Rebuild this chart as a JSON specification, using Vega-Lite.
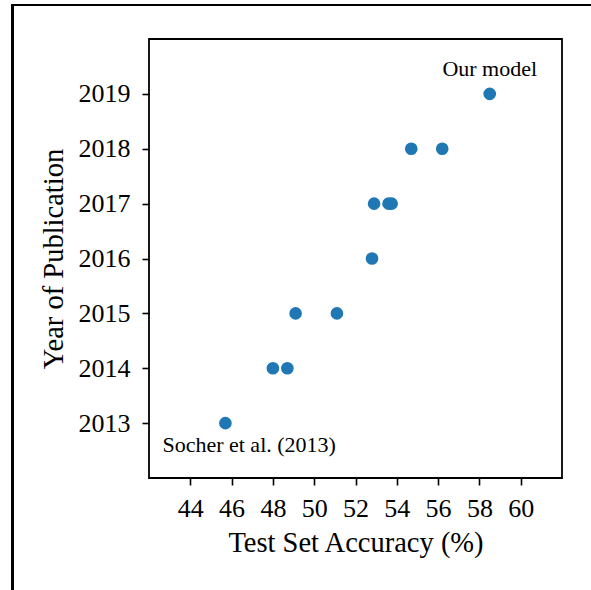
{
  "$schema": "https://vega.github.io/schema/vega-lite/v6.json",
  "autosize": "none",
  "width": 413,
  "height": 439,
  "padding": {"left": 149, "top": 39, "right": 29, "bottom": 112},
  "background": "white",
  "config": {
    "view": {"stroke": "black", "strokeWidth": 1.8},
    "font": "Liberation Serif"
  },
  "data": {
    "values": [
      {"accuracy": 45.7, "year": 2013, "label": "Socher et al. (2013)"},
      {"accuracy": 48.0, "year": 2014, "label": ""},
      {"accuracy": 48.7, "year": 2014, "label": ""},
      {"accuracy": 49.1, "year": 2015, "label": ""},
      {"accuracy": 51.1, "year": 2015, "label": ""},
      {"accuracy": 52.8, "year": 2016, "label": ""},
      {"accuracy": 52.9, "year": 2017, "label": ""},
      {"accuracy": 53.6, "year": 2017, "label": ""},
      {"accuracy": 53.75, "year": 2017, "label": ""},
      {"accuracy": 54.7, "year": 2018, "label": ""},
      {"accuracy": 56.2, "year": 2018, "label": ""},
      {"accuracy": 58.5, "year": 2019, "label": "Our model"}
    ]
  },
  "layer": [
    {
      "mark": {"type": "rect", "fill": null, "stroke": "black", "strokeWidth": 2, "clip": false},
      "encoding": {
        "x": {"datum": 35.4, "type": "quantitative", "scale": {"domain": [42, 62]}},
        "x2": {"datum": 90},
        "y": {"datum": 2020.62, "type": "quantitative"},
        "y2": {"datum": 1990}
      }
    },
    {
      "mark": {"type": "point", "filled": true, "size": 160, "color": "#1f77b4", "opacity": 1},
      "encoding": {
        "x": {
          "field": "accuracy", "type": "quantitative",
          "scale": {"domain": [42, 62], "nice": false, "zero": false},
          "axis": {
            "values": [44, 46, 48, 50, 52, 54, 56, 58, 60],
            "title": "Test Set Accuracy (%)",
            "grid": false, "domain": false,
            "tickColor": "black", "tickSize": 7, "tickWidth": 1.6,
            "labelColor": "black", "labelFont": "Liberation Serif", "labelFontSize": 26,
            "labelPadding": 10,
            "titleColor": "black", "titleFont": "Liberation Serif", "titleFontSize": 28.5,
            "titleFontWeight": "normal", "titlePadding": 7
          }
        },
        "y": {
          "field": "year", "type": "quantitative",
          "scale": {"domain": [2012, 2020], "nice": false, "zero": false},
          "axis": {
            "values": [2013, 2014, 2015, 2016, 2017, 2018, 2019],
            "format": "d",
            "title": "Year of Publication",
            "grid": false, "domain": false,
            "tickColor": "black", "tickSize": 7, "tickWidth": 1.6,
            "labelColor": "black", "labelFont": "Liberation Serif", "labelFontSize": 26,
            "labelPadding": 12,
            "titleColor": "black", "titleFont": "Liberation Serif", "titleFontSize": 28.5,
            "titleFontWeight": "normal", "titlePadding": 10
          }
        }
      }
    },
    {
      "transform": [{"filter": "datum.label == 'Our model'"}],
      "mark": {"type": "text", "font": "Liberation Serif", "fontSize": 22, "color": "black", "dy": -25, "align": "center", "baseline": "middle"},
      "encoding": {
        "x": {"field": "accuracy", "type": "quantitative"},
        "y": {"field": "year", "type": "quantitative"},
        "text": {"field": "label"}
      }
    },
    {
      "transform": [{"filter": "datum.label == 'Socher et al. (2013)'"}],
      "mark": {"type": "text", "font": "Liberation Serif", "fontSize": 22, "color": "black", "dx": -63, "dy": 22, "align": "left", "baseline": "middle"},
      "encoding": {
        "x": {"field": "accuracy", "type": "quantitative"},
        "y": {"field": "year", "type": "quantitative"},
        "text": {"field": "label"}
      }
    }
  ]
}
